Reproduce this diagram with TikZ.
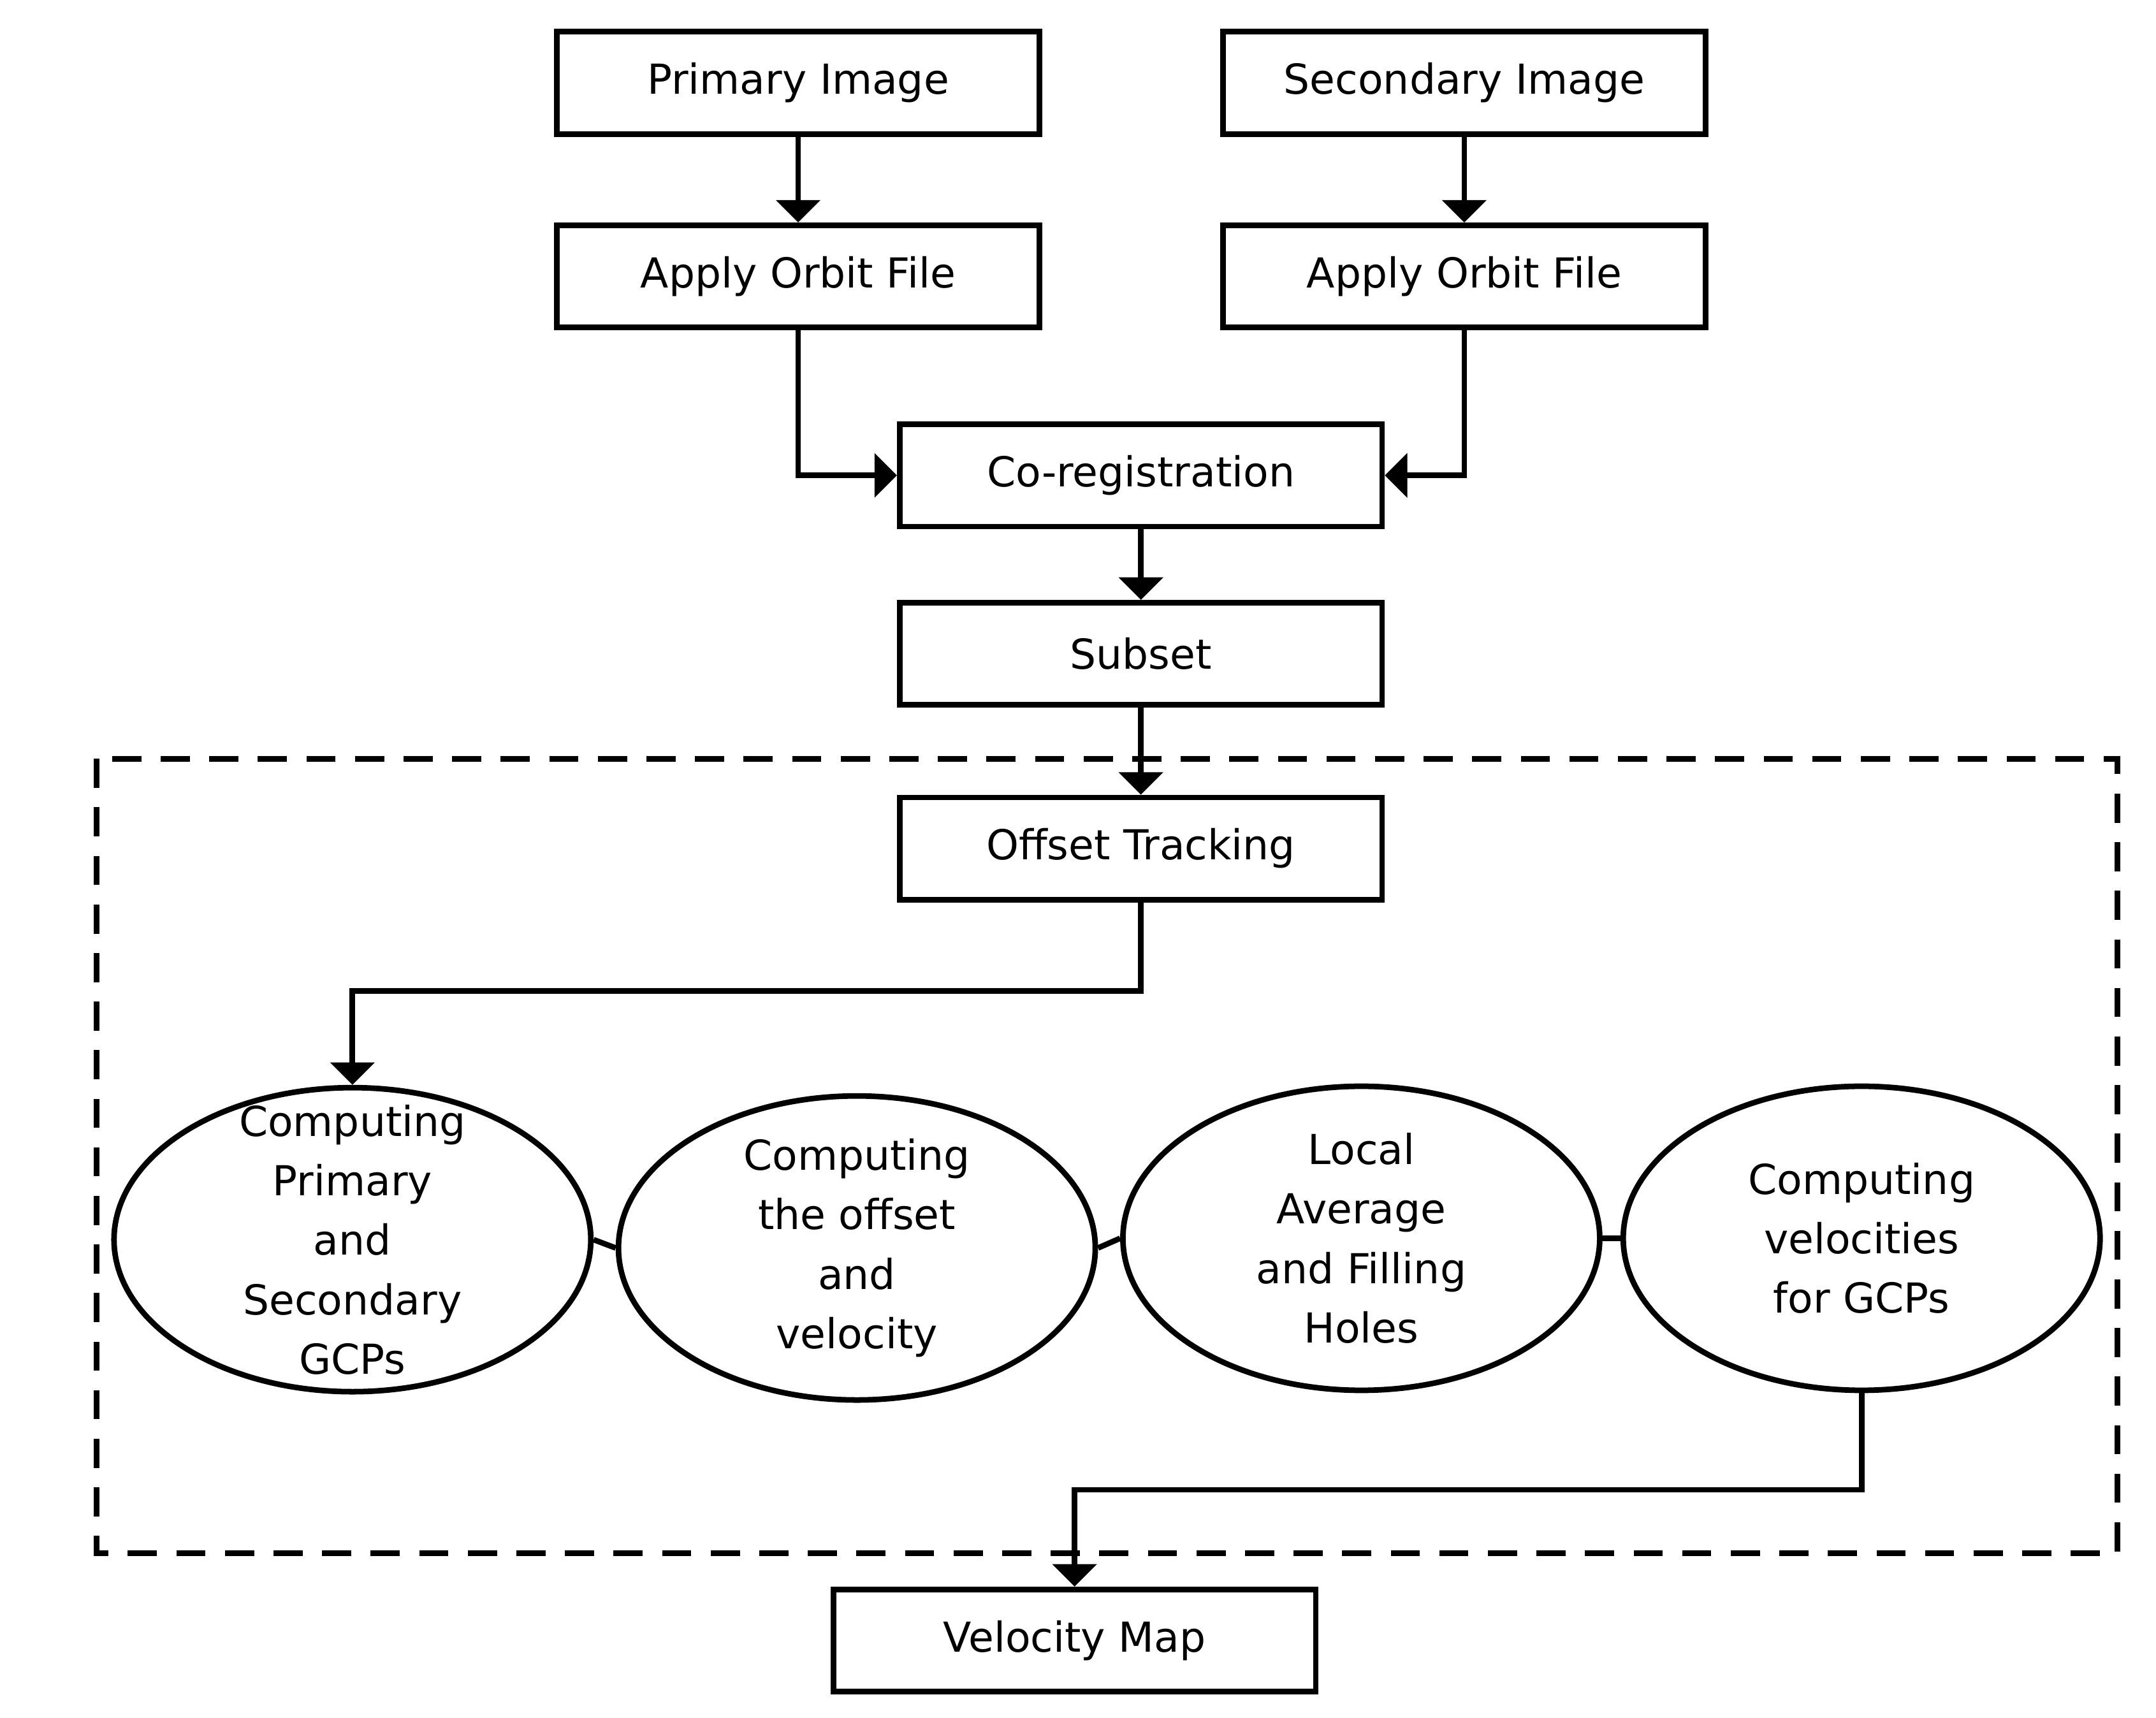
\documentclass[tikz,border=0pt]{standalone}
\usepackage{fontspec}
\setmainfont{DejaVu Sans}
\usetikzlibrary{arrows,shapes.geometric}
\begin{document}
\begin{tikzpicture}[>=triangle 90, line width=2.3pt,
  stepbox/.style={draw, minimum width=6.98cm, minimum height=1.48cm, font=\fontsize{17}{21}\selectfont},
  oval/.style={draw, ellipse, minimum width=6.9cm, minimum height=4.4cm},
  ovaltext/.style={align=center, font=\fontsize{17}{24.5}\selectfont}]
\useasboundingbox (0,0) rectangle (31.2,-24.86);
% boxes
\node [stepbox] (prim) at (11.55,-1.2) {Primary Image};
\node [stepbox] (sec) at (21.19,-1.2) {Secondary Image};
\node [stepbox] (orb1) at (11.55,-4.0) {Apply Orbit File};
\node [stepbox] (orb2) at (21.19,-4.0) {Apply Orbit File};
\node [stepbox] (coreg) at (16.51,-6.88) {Co-registration};
\node [stepbox] (subset) at (16.51,-9.46) {Subset};
\node [stepbox] (offset) at (16.51,-12.28) {Offset Tracking};
\node [stepbox] (velmap) at (15.55,-23.74) {Velocity Map};
% dashed frame
\draw [dashed, dash pattern=on 12pt off 8pt] (1.4,-10.98) rectangle (30.64,-22.48);
% ovals
\node [oval] (gcp) at (5.1,-17.94) {};
\node [ovaltext] at (gcp) {Computing\\Primary\\and\\Secondary\\GCPs};
\node [oval] (offv) at (12.4,-18.06) {};
\node [ovaltext] at (offv) {Computing\\the offset\\and\\velocity};
\node [oval] (avg) at (19.7,-17.92) {};
\node [ovaltext] at (avg) {Local\\Average\\and Filling\\Holes};
\node [oval] (vgcp) at (26.94,-17.92) {};
\node [ovaltext] at (vgcp) {Computing\\velocities\\for GCPs};
% connectors
\draw [->] (prim) -- (orb1);
\draw [->] (sec) -- (orb2);
\draw [->] (orb1.south) |- (coreg.west);
\draw [->] (orb2.south) |- (coreg.east);
\draw [->] (coreg) -- (subset);
\draw [->] (subset) -- (offset);
\coordinate (k1) at (16.51,-14.34);
\draw [->] (offset.south) -- (k1) -| (gcp.north);
\draw (gcp.east) -- (offv.west);
\draw (offv.east) -- (avg.west);
\draw (avg.east) -- (vgcp.west);
\coordinate (k2) at (26.94,-21.56);
\draw [->] (vgcp.south) -- (k2) -| (velmap.north);
\end{tikzpicture}
\end{document}
